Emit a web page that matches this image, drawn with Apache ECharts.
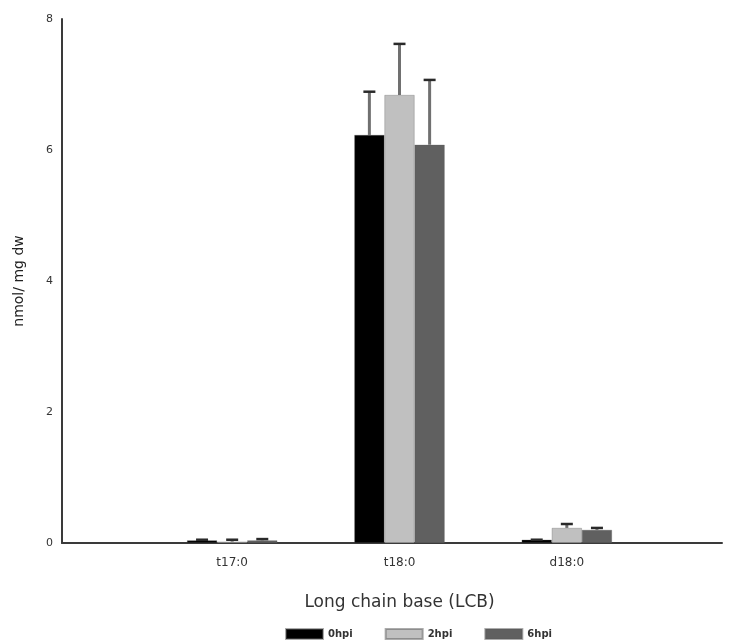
<!DOCTYPE html>
<html>
<head>
<meta charset="utf-8">
<title>LCB content</title>
<script src="https://cdn.jsdelivr.net/npm/echarts@6/dist/echarts.min.js"></script>
<style>
  html, body { margin: 0; padding: 0; background: #fff; }
  #chart { width: 733px; height: 644px; }
</style>
</head>
<body>
<div id="chart"></div>
<script>
// Long chain base content per time point (nmol / mg dw)
const categories = ['t17:0', 't18:0', 'd18:0'];
const seriesNames = ['0hpi', '2hpi', '6hpi'];
const values0hpi = [0.04, 6.23, 0.05];
const values2hpi = [0.02, 6.84, 0.23];
const values6hpi = [0.04, 6.08, 0.20];
// upper end of each error bar
const upper0hpi = [0.05, 6.89, 0.05];
const upper2hpi = [0.05, 7.62, 0.29];
const upper6hpi = [0.06, 7.07, 0.23];
const yTicks = [0, 2, 4, 6, 8];

const colors = ['#000000', '#c0c0c0', '#606060'];
const barWidthFrac = 0.18;

const valueSets = [values0hpi, values2hpi, values6hpi];
const upperSets = [upper0hpi, upper2hpi, upper6hpi];

const errData = [];
valueSets.forEach((vals, s) => {
  vals.forEach((v, c) => {
    errData.push([c, s, v, upperSets[s][c]]);
  });
});

const font = 'DejaVu Sans, Verdana, sans-serif';

const chart = echarts.init(document.getElementById('chart'), null, { renderer: 'canvas' });

const barSeries = seriesNames.map((name, s) => ({
  name: name,
  type: 'bar',
  xAxisIndex: 1,
  yAxisIndex: 1,
  data: valueSets[s],
  barWidth: (barWidthFrac * 100) + '%',
  barGap: '0%',
  itemStyle: { color: colors[s], borderColor: 'rgba(90,90,90,0.5)', borderWidth: 0.6 },
  silent: true
}));

const option = {
  animation: false,
  backgroundColor: '#fff',
  textStyle: { fontFamily: font },
  legend: {
    data: seriesNames,
    left: 280,
    top: 623,
    icon: 'rect',
    itemWidth: 37,
    itemHeight: 10,
    itemGap: 32,
    textStyle: { fontFamily: font, fontSize: 10, fontWeight: 'bold', color: '#333' }
  },
  grid: [
    { left: 62, right: 11, top: 19, bottom: 101 },
    { left: 148.5, right: 82.5, top: 19, bottom: 101 }
  ],
  xAxis: [
    {
      gridIndex: 0,
      type: 'value',
      min: 0, max: 1,
      axisLine: { show: true, lineStyle: { color: '#3a3a3a', width: 2 } },
      axisTick: { show: false },
      axisLabel: { show: false },
      splitLine: { show: false }
    },
    {
      gridIndex: 1,
      type: 'category',
      data: categories,
      axisLine: { show: false },
      axisTick: { show: false },
      axisLabel: { fontFamily: font, fontSize: 12, color: '#333', margin: 14 },
      name: 'Long chain base (LCB)',
      nameLocation: 'middle',
      nameGap: 51,
      nameTextStyle: { fontFamily: font, fontSize: 17, color: '#333' }
    }
  ],
  yAxis: [
    {
      gridIndex: 0,
      type: 'value',
      min: 0, max: 8, interval: 2,
      axisLine: { show: true, lineStyle: { color: '#3a3a3a', width: 2 } },
      axisTick: { show: false },
      splitLine: { show: false },
      axisLabel: {
        fontFamily: font, fontSize: 11, color: '#333', margin: 9,
        formatter: v => (yTicks.indexOf(v) >= 0 ? String(v) : '')
      },
      name: 'nmol/ mg dw',
      nameLocation: 'middle',
      nameGap: 36,
      nameTextStyle: { fontFamily: font, fontSize: 14, color: '#222' }
    },
    {
      gridIndex: 1,
      type: 'value',
      min: 0, max: 8, interval: 2,
      show: false
    }
  ],
  series: barSeries.concat([{
    type: 'custom',
    name: 'error',
    xAxisIndex: 1,
    yAxisIndex: 1,
    data: errData,
    encode: { x: 0, y: 3 },
    z: 3,
    silent: true,
    renderItem: function (params, api) {
      const c = api.value(0);
      const s = api.value(1);
      const base = api.coord([c, api.value(2)]);
      const top = api.coord([c, api.value(3)]);
      const band = api.size([1, 0])[0];
      const x = base[0] + (s - 1) * band * barWidthFrac;
      const capHalf = 6;
      return {
        type: 'group',
        children: [
          {
            type: 'line',
            shape: { x1: x, y1: base[1], x2: x, y2: top[1] },
            style: { stroke: '#707070', lineWidth: 3 }
          },
          {
            type: 'line',
            shape: { x1: x - capHalf, y1: top[1], x2: x + capHalf, y2: top[1] },
            style: { stroke: '#2a2a2a', lineWidth: 2.5 }
          }
        ]
      };
    }
  }])
};

chart.setOption(option);
</script>
</body>
</html>
